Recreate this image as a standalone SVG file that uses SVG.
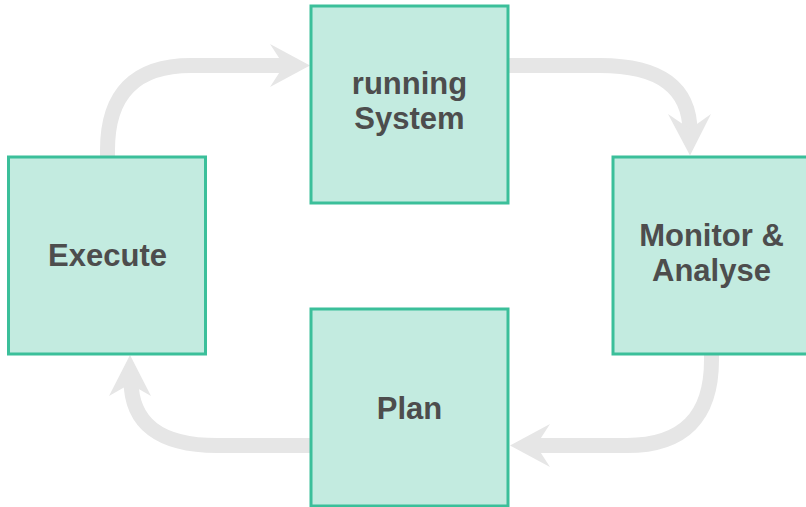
<svg xmlns="http://www.w3.org/2000/svg" width="806" height="507" viewBox="0 0 806 507">
<style>
.box{fill:#C3EBE0;stroke:#3BBF9A;stroke-width:3}
.lbl{font-family:"Liberation Sans",Arial,sans-serif;font-weight:bold;font-size:31px;fill:#4D4D4D;text-anchor:middle}
.shaft{fill:none;stroke:#E6E6E6;stroke-width:15}
.head{fill:#E6E6E6}
</style>
<rect width="806" height="507" fill="#FFFFFF"/>
<g id="connectors">
<path class="shaft" d="M107.5,158 L107.5,150 Q107.5,65.5 191,65.5 L286,65.5"/>
<polygon class="head" points="310,65.5 270,44 284,65.5 270,87"/>
<path class="shaft" d="M507,65.5 L600,65.5 Q690,65.5 690,132"/>
<polygon class="head" points="690,155.5 668,114 690,129 711,114"/>
<path class="shaft" d="M711.5,353 L711.5,360 Q711.5,445.5 627,445.5 L534,445.5"/>
<polygon class="head" points="510,445.5 550,424 536,445.5 550,467"/>
<path class="shaft" d="M312,445.5 L217,445.5 Q131,445.5 131,380"/>
<polygon class="head" points="130,355 109,396 130,384 151,396"/>
</g>
<g id="node-running-system">
<rect class="box" x="311" y="6" width="197" height="197"/>
<text class="lbl" x="409.5" y="94">running</text>
<text class="lbl" x="409.5" y="129">System</text>
</g>
<g id="node-execute">
<rect class="box" x="8.5" y="157" width="197" height="197"/>
<text class="lbl" x="107.5" y="266">Execute</text>
</g>
<g id="node-monitor">
<rect class="box" x="613" y="157" width="197" height="197"/>
<text class="lbl" x="711.5" y="246">Monitor &amp;</text>
<text class="lbl" x="711.5" y="281">Analyse</text>
</g>
<g id="node-plan">
<rect class="box" x="311" y="309" width="197" height="197"/>
<text class="lbl" x="409.5" y="419">Plan</text>
</g>
</svg>
